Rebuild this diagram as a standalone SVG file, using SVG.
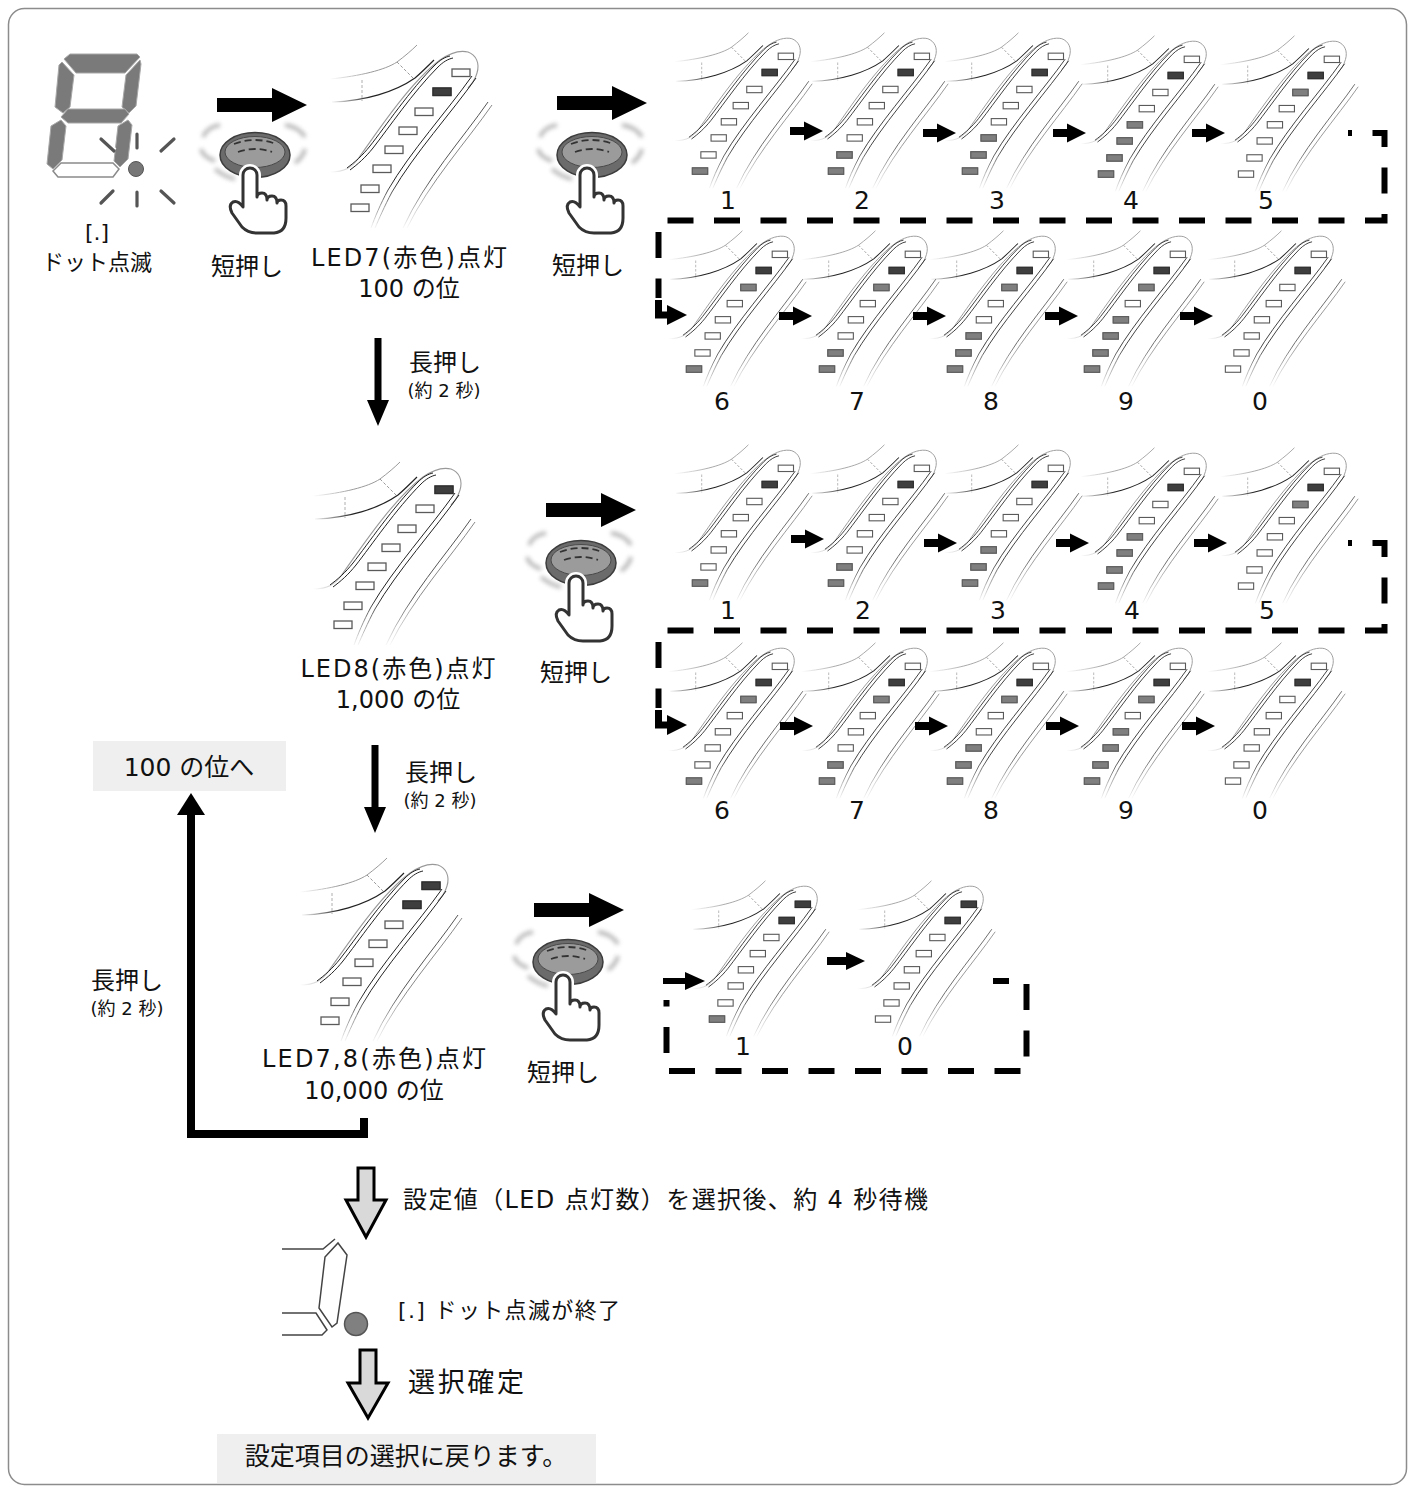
<svg xmlns="http://www.w3.org/2000/svg" width="1413" height="1488" viewBox="0 0 1413 1488">
<style>
.t{font-family:"DejaVu Sans","Noto Sans CJK JP",sans-serif;fill:#111;text-anchor:middle}
.s24{font-size:24px}.s22{font-size:22px}.s18{font-size:18px}.s25{font-size:25px}.s27{font-size:27px}
.st{text-anchor:start}
.off{fill:#fff;stroke:#5a5a5a;stroke-width:1.3}
.on{fill:#7f7f7f;stroke:#5f5f5f;stroke-width:1.3}
.pos{fill:#3e3e3e;stroke:#2e2e2e;stroke-width:1.3}
.dash{fill:none;stroke:#000;stroke-width:6;stroke-dasharray:26 20.5}
.seg{fill:#7a7a7a;stroke:#a8a8a8;stroke-width:1}
.ray{stroke:#555;stroke-width:3.2;stroke-linecap:round}
.box{fill:#efefef}
</style>
<defs>
<filter id="blur" x="-50%" y="-50%" width="200%" height="200%"><feGaussianBlur stdDeviation="2"/></filter>
<linearGradient id="gv" gradientUnits="userSpaceOnUse" x1="0" y1="150" x2="0" y2="200"><stop offset="0" stop-color="#fff"/><stop offset="1" stop-color="#000"/></linearGradient>
<linearGradient id="gh" gradientUnits="userSpaceOnUse" x1="30" y1="0" x2="70" y2="0"><stop offset="0" stop-color="#000"/><stop offset="1" stop-color="#fff"/></linearGradient>
<mask id="mv" maskUnits="userSpaceOnUse" x="0" y="0" width="220" height="220"><rect x="0" y="0" width="220" height="220" fill="url(#gv)"/></mask>
<mask id="mh" maskUnits="userSpaceOnUse" x="0" y="0" width="220" height="220"><rect x="0" y="0" width="220" height="220" fill="url(#gh)"/></mask>
<rect id="L1" x="51" y="174" width="18" height="7.5"/>
<rect id="L2" x="61" y="155" width="18" height="7.5"/>
<rect id="L3" x="73" y="135" width="18" height="7.5"/>
<rect id="L4" x="85" y="116" width="18" height="7.5"/>
<rect id="L5" x="99" y="97" width="18" height="7.5"/>
<rect id="L6" x="115" y="78" width="18" height="7.5"/>
<rect id="L7" x="133" y="58" width="18" height="7.5"/>
<rect id="L8" x="152" y="39" width="18" height="7.5"/>
<g id="strip" fill="none">
<g mask="url(#mh)">
<path d="M30,49 C60,46 85,40 97,32 C105,26 112,20 117,15" stroke="#999" stroke-width="1"/>
<path d="M32,72 C65,71 95,62 115,48 C122,42 128,36 134,30" stroke="#222" stroke-width="1.2"/>
<path d="M62,50 V71" stroke="#999" stroke-width="1" stroke-dasharray="3 2"/>
<path d="M30,142 C45,142 52,137 58,129" stroke="#999" stroke-width="1.1"/>
</g>
<path d="M97,32 L113,48" stroke="#999" stroke-width="1" stroke-dasharray="3 2"/>
<path d="M58,129 C75,105 110,52 140,30 C150,23 160,20 168,22 C176,25 180,33 177,43 C175,50 172,54 168,58" stroke="#999" stroke-width="1.1"/>
<path d="M47,138 C55,132 62,126 70,116 C85,97 110,60 135,35 C140,30 145,27 150,26" stroke="#222" stroke-width="1"/>
<path d="M50,140 C58,134 65,128 73,118 C88,99 113,62 138,37 C143,32 148,29 153,28" stroke="#222" stroke-width="1"/>
<g mask="url(#mv)">
<path d="M172,46 C148,80 110,122 88,160 C80,175 75,187 71,198" stroke="#222" stroke-width="1"/>
<path d="M176,48 C152,82 114,124 92,162 C84,177 79,189 75,198" stroke="#222" stroke-width="1"/>
<path d="M188,72 C163,108 125,150 103,198" stroke="#555" stroke-width="1"/>
<path d="M192,75 C167,111 129,153 107,198" stroke="#888" stroke-width="1"/>
</g>
<g class="off"><use href="#L1"/><use href="#L2"/><use href="#L3"/><use href="#L4"/><use href="#L5"/><use href="#L6"/><use href="#L7"/><use href="#L8"/></g>
</g>
<path id="hand" d="M2,40 L2,20 A7,7 0 0 0 -12,20 L-12,52 Q-17,45 -22,47 Q-27,50 -23,58 L-13,72 Q-7,78 2,78 L19,78 Q31,77 31,63 L31,51 Q31,45 26,45 Q22,45 22,48 Q22,41 17,41 Q12,41 12,45 Q12,38 7,38 Q2,38 2,42 Z"/>
<g id="btn">
<g filter="url(#blur)" opacity="0.6" fill="none" stroke="#8a8a8a" stroke-width="4">
<path d="M-52,-18 Q-48,-28 -35,-30"/><path d="M-54,-6 Q-52,2 -40,6"/><path d="M30,-30 Q44,-28 50,-18"/><path d="M-40,14 Q-30,22 -20,24"/><path d="M40,8 Q48,2 50,-6"/>
</g>
<ellipse cx="0" cy="0" rx="35" ry="22.5" fill="#6b6b6b" stroke="#3c3c3c" stroke-width="1.5"/>
<ellipse cx="0" cy="-3" rx="30" ry="15.5" fill="#9b9b9b" stroke="#4a4a4a" stroke-width="1"/>
<path d="M-21,-11 Q0,-19 21,-11" fill="none" stroke="#333" stroke-width="1.8" stroke-dasharray="7 4"/>
<path d="M-17,-3 Q0,-9 17,-3" fill="none" stroke="#333" stroke-width="1.8" stroke-dasharray="7 4"/>
<use href="#hand" fill="#fff" stroke="#fff" stroke-width="8" stroke-linejoin="round"/>
<use href="#hand" fill="#fff" stroke="#333" stroke-width="3" stroke-linejoin="round"/>
</g>
<path id="bigarrow" d="M0,-7 H55 V-17 L90,0 L55,17 V7 H0 Z" fill="#000"/>
<path id="sarrow" d="M0,-4 H14 V-9.5 L33,0 L14,9.5 V4 H0 Z" fill="#000"/>
<path id="darrow" d="M-3.5,0 H3.5 V62 H11 L0,88 L-11,62 H-3.5 Z" fill="#000"/>
</defs>

<rect x="8.5" y="8.5" width="1398" height="1476" rx="16" fill="#fff" stroke="#8c8c8c" stroke-width="1.5"/>

<!-- 7-seg display -->
<g id="display">
<polygon class="seg" points="64,59 70,54 137,54 140,57 125,73 76,73"/>
<polygon class="seg" points="62,62 74,75 70,107 63,113 55,107 59,65"/>
<polygon class="seg" points="140,60 141,64 136,106 129,113 122,107 126,75"/>
<polygon class="seg" points="61,117 68,109 125,109 129,114 121,123 68,123"/>
<polygon class="seg" points="61,120 66,126 62,160 53,169 47,164 51,126"/>
<polygon class="seg" points="128,120 132,125 128,159 120,167 114,161 118,126"/>
<polygon points="53,171 61,163 113,163 119,169 113,177 58,177" fill="#fff" stroke="#8a8a8a" stroke-width="1.5"/>
<circle cx="136" cy="169" r="7.5" fill="#777" stroke="#555" stroke-width="1"/>
<line x1="101" y1="139" x2="114" y2="151" stroke="#fff" stroke-width="7"/>
<line class="ray" x1="137" y1="134" x2="137" y2="148"/>
<line class="ray" x1="137" y1="192" x2="137" y2="206"/>
<line class="ray" x1="101" y1="139" x2="114" y2="151"/>
<line class="ray" x1="161" y1="151" x2="174" y2="139"/>
<line class="ray" x1="101" y1="203" x2="113" y2="191"/>
<line class="ray" x1="161" y1="191" x2="174" y2="203"/>
<text class="t s22" x="97" y="240">[.]</text>
<text class="t s22" x="97" y="270">ドット点滅</text>
</g>

<!-- buttons -->
<g id="button1"><use href="#btn" transform="translate(255,155)"/><text class="t s24" x="247" y="275">短押し</text></g>
<g id="button2"><use href="#btn" transform="translate(592,155)"/><text class="t s24" x="588" y="274">短押し</text></g>
<g id="button3"><use href="#btn" transform="translate(581,563)"/><text class="t s24" x="576" y="681">短押し</text></g>
<g id="button4"><use href="#btn" transform="translate(568,962)"/><text class="t s24" x="563" y="1081">短押し</text></g>

<!-- main icons -->
<g id="led7"><g transform="translate(300,30)"><use href="#strip"/><use href="#L7" class="pos"/></g>
<text class="t s24" x="409" y="266" textLength="196" lengthAdjust="spacing">LED7(赤色)点灯</text>
<text class="t s24" x="409" y="297">100 の位</text></g>
<g id="led8"><g transform="translate(283,447)"><use href="#strip"/><use href="#L8" class="pos"/></g>
<text class="t s24" x="398" y="677" textLength="195" lengthAdjust="spacing">LED8(赤色)点灯</text>
<text class="t s24" x="398" y="708">1,000 の位</text></g>
<g id="led78"><g transform="translate(270,843)"><use href="#strip"/><use href="#L7" class="pos"/><use href="#L8" class="pos"/></g>
<text class="t s24" x="374" y="1067" textLength="224" lengthAdjust="spacing">LED7,8(赤色)点灯</text>
<text class="t s24" x="374" y="1099">10,000 の位</text></g>

<!-- row 1 values (100) -->
<g id="r1v1" transform="translate(649,20) scale(.85)"><use href="#strip"/><use href="#L1" class="on"/><use href="#L7" class="pos"/></g>
<g id="r1v2" transform="translate(785,20) scale(.85)"><use href="#strip"/><use href="#L1" class="on"/><use href="#L2" class="on"/><use href="#L7" class="pos"/></g>
<g id="r1v3" transform="translate(919,20) scale(.85)"><use href="#strip"/><use href="#L1" class="on"/><use href="#L2" class="on"/><use href="#L3" class="on"/><use href="#L7" class="pos"/></g>
<g id="r1v4" transform="translate(1055,23) scale(.85)"><use href="#strip"/><use href="#L1" class="on"/><use href="#L2" class="on"/><use href="#L3" class="on"/><use href="#L4" class="on"/><use href="#L7" class="pos"/></g>
<g id="r1v5" transform="translate(1195,23) scale(.85)"><use href="#strip"/><use href="#L6" class="on"/><use href="#L7" class="pos"/></g>
<g id="r1v6" transform="translate(643,218) scale(.85)"><use href="#strip"/><use href="#L1" class="on"/><use href="#L6" class="on"/><use href="#L7" class="pos"/></g>
<g id="r1v7" transform="translate(776,218) scale(.85)"><use href="#strip"/><use href="#L1" class="on"/><use href="#L2" class="on"/><use href="#L6" class="on"/><use href="#L7" class="pos"/></g>
<g id="r1v8" transform="translate(904,218) scale(.85)"><use href="#strip"/><use href="#L1" class="on"/><use href="#L2" class="on"/><use href="#L3" class="on"/><use href="#L6" class="on"/><use href="#L7" class="pos"/></g>
<g id="r1v9" transform="translate(1041,218) scale(.85)"><use href="#strip"/><use href="#L1" class="on"/><use href="#L2" class="on"/><use href="#L3" class="on"/><use href="#L4" class="on"/><use href="#L6" class="on"/><use href="#L7" class="pos"/></g>
<g id="r1v0" transform="translate(1182,218) scale(.85)"><use href="#strip"/><use href="#L7" class="pos"/></g>

<!-- row 2 values (1000) -->
<g id="r2v1" transform="translate(649,432) scale(.85)"><use href="#strip"/><use href="#L1" class="on"/><use href="#L7" class="pos"/></g>
<g id="r2v2" transform="translate(785,432) scale(.85)"><use href="#strip"/><use href="#L1" class="on"/><use href="#L2" class="on"/><use href="#L7" class="pos"/></g>
<g id="r2v3" transform="translate(919,432) scale(.85)"><use href="#strip"/><use href="#L1" class="on"/><use href="#L2" class="on"/><use href="#L3" class="on"/><use href="#L7" class="pos"/></g>
<g id="r2v4" transform="translate(1055,435) scale(.85)"><use href="#strip"/><use href="#L1" class="on"/><use href="#L2" class="on"/><use href="#L3" class="on"/><use href="#L4" class="on"/><use href="#L7" class="pos"/></g>
<g id="r2v5" transform="translate(1195,435) scale(.85)"><use href="#strip"/><use href="#L6" class="on"/><use href="#L7" class="pos"/></g>
<g id="r2v6" transform="translate(643,630) scale(.85)"><use href="#strip"/><use href="#L1" class="on"/><use href="#L6" class="on"/><use href="#L7" class="pos"/></g>
<g id="r2v7" transform="translate(776,630) scale(.85)"><use href="#strip"/><use href="#L1" class="on"/><use href="#L2" class="on"/><use href="#L6" class="on"/><use href="#L7" class="pos"/></g>
<g id="r2v8" transform="translate(904,630) scale(.85)"><use href="#strip"/><use href="#L1" class="on"/><use href="#L2" class="on"/><use href="#L3" class="on"/><use href="#L6" class="on"/><use href="#L7" class="pos"/></g>
<g id="r2v9" transform="translate(1041,630) scale(.85)"><use href="#strip"/><use href="#L1" class="on"/><use href="#L2" class="on"/><use href="#L3" class="on"/><use href="#L4" class="on"/><use href="#L6" class="on"/><use href="#L7" class="pos"/></g>
<g id="r2v0" transform="translate(1182,630) scale(.85)"><use href="#strip"/><use href="#L7" class="pos"/></g>

<!-- row 3 values (10000) -->
<g id="r3v1" transform="translate(666,868) scale(.85)"><use href="#strip"/><use href="#L1" class="on"/><use href="#L7" class="pos"/><use href="#L8" class="pos"/></g>
<g id="r3v0" transform="translate(832,868) scale(.85)"><use href="#strip"/><use href="#L7" class="pos"/><use href="#L8" class="pos"/></g>

<!-- value labels -->
<g id="labels" class="t s25">
<text x="728" y="209">1</text><text x="862" y="209">2</text><text x="997" y="209">3</text><text x="1131" y="209">4</text><text x="1266" y="209">5</text>
<text x="722" y="410">6</text><text x="857" y="410">7</text><text x="991" y="410">8</text><text x="1126" y="410">9</text><text x="1260" y="410">0</text>
<text x="728" y="619">1</text><text x="863" y="619">2</text><text x="998" y="619">3</text><text x="1132" y="619">4</text><text x="1267" y="619">5</text>
<text x="722" y="819">6</text><text x="857" y="819">7</text><text x="991" y="819">8</text><text x="1126" y="819">9</text><text x="1260" y="819">0</text>
<text x="743" y="1055">1</text><text x="905" y="1055">0</text>
</g>

<!-- other texts -->
<text class="t s24" x="445" y="371">長押し</text>
<text class="t s18" x="444" y="397">(約 2 秒)</text>
<text class="t s24" x="441" y="781">長押し</text>
<text class="t s18" x="440" y="807">(約 2 秒)</text>
<text class="t s24" x="127" y="989">長押し</text>
<text class="t s18" x="127" y="1015">(約 2 秒)</text>
<g id="back100"><rect class="box" x="93" y="741" width="193" height="50"/><text class="t s25" x="189" y="776">100 の位へ</text></g>
<text class="t s24 st" x="403" y="1208" textLength="525" lengthAdjust="spacing">設定値（LED 点灯数）を選択後、約 4 秒待機</text>
<text class="t s22 st" x="398" y="1318" textLength="222" lengthAdjust="spacing">[.] ドット点滅が終了</text>
<text class="t s27 st" x="408" y="1392" textLength="116" lengthAdjust="spacing">選択確定</text>
<g id="back"><rect class="box" x="217" y="1434" width="379" height="49"/><text class="t s25" x="406" y="1465">設定項目の選択に戻ります。</text></g>

<!-- end display -->
<g id="display2" fill="none" stroke="#444" stroke-width="1.5">
<path d="M282,1249 H323 L335,1239"/>
<polygon points="325,1257 338,1243 347,1255 337,1323 332,1327 319,1308"/>
<path d="M282,1313 H316 L327,1330 L322,1335 H282"/>
<circle cx="356" cy="1324" r="11.5" fill="#808080" stroke="#555"/>
</g>

<!-- connectors -->
<g id="connectors">
<use href="#bigarrow" transform="translate(217,105)"/>
<use href="#bigarrow" transform="translate(557,103)"/>
<use href="#bigarrow" transform="translate(546,510)"/>
<use href="#bigarrow" transform="translate(534,910)"/>
<use href="#darrow" transform="translate(378,338)"/>
<use href="#darrow" transform="translate(375,745)"/>
<use href="#sarrow" transform="translate(790,131)"/>
<use href="#sarrow" transform="translate(923,133)"/>
<use href="#sarrow" transform="translate(1053,133)"/>
<use href="#sarrow" transform="translate(1192,133)"/>
<use href="#sarrow" transform="translate(779,316)"/>
<use href="#sarrow" transform="translate(913,316)"/>
<use href="#sarrow" transform="translate(1045,316)"/>
<use href="#sarrow" transform="translate(1180,316)"/>
<use href="#sarrow" transform="translate(791,539)"/>
<use href="#sarrow" transform="translate(924,543)"/>
<use href="#sarrow" transform="translate(1056,543)"/>
<use href="#sarrow" transform="translate(1194,543)"/>
<use href="#sarrow" transform="translate(780,726)"/>
<use href="#sarrow" transform="translate(915,726)"/>
<use href="#sarrow" transform="translate(1046,726)"/>
<use href="#sarrow" transform="translate(1182,726)"/>
<path class="dash" d="M1348,133 H1384.5 V220.5 H658.5 V298" stroke-dashoffset="22"/>
<path d="M658.5,300 V315 H670" fill="none" stroke="#000" stroke-width="7"/>
<polygon points="667,305 687,315 667,325"/>
<path class="dash" d="M1348,543 H1384.5 V630.5 H658.5 V708" stroke-dashoffset="22"/>
<path d="M658.5,710 V725 H670" fill="none" stroke="#000" stroke-width="7"/>
<polygon points="667,715 687,725 667,735"/>
<path class="dash" d="M993,981 H1026.5 V1071 H666.5 V1000" stroke-dashoffset="10"/>
<path d="M663,981 H688" fill="none" stroke="#000" stroke-width="6"/>
<polygon points="685,972 705,981 685,990"/>
<path d="M827,957 H846 V952 L865,961 L846,970 V965 H827 Z"/>
<path d="M364,1118 V1134 H191 V812" fill="none" stroke="#000" stroke-width="8"/>
<polygon points="177,815 191,793 205,815"/>
<polygon points="358,1168 374,1168 374,1200 386,1200 366,1237 346,1200 358,1200" fill="#d9d9d9" stroke="#000" stroke-width="3"/>
<polygon points="360,1350 376,1350 376,1383 388,1383 368,1418 348,1383 360,1383" fill="#d9d9d9" stroke="#000" stroke-width="3"/>
</g>
</svg>
